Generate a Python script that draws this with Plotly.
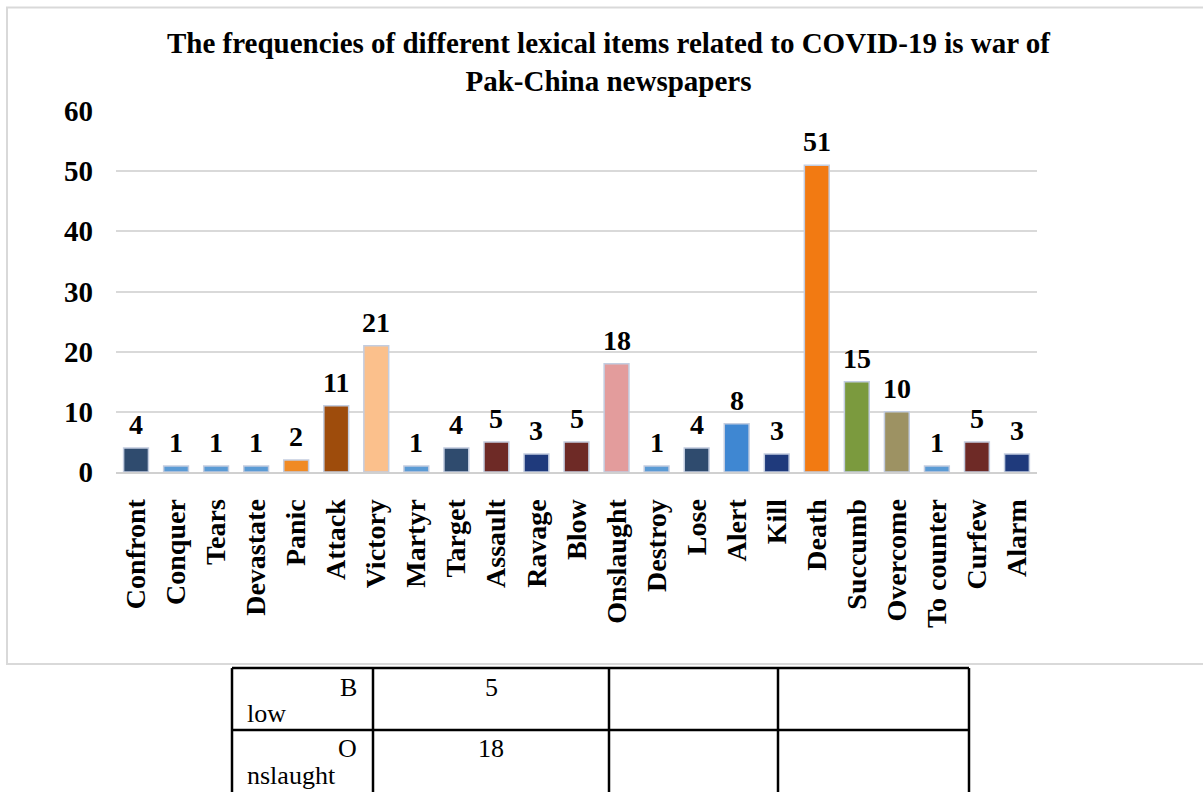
import plotly.graph_objects as go

# ---------------- data ----------------
categories = ["Confront", "Conquer", "Tears", "Devastate", "Panic", "Attack", "Victory",
              "Martyr", "Target", "Assault", "Ravage", "Blow", "Onslaught", "Destroy",
              "Lose", "Alert", "Kill", "Death", "Succumb", "Overcome", "To counter",
              "Curfew", "Alarm"]
frequencies = [4, 1, 1, 1, 2, 11, 21, 1, 4, 5, 3, 5, 18, 1, 4, 8, 3, 51, 15, 10, 1, 5, 3]
bar_colors = ["#2f4b6e", "#5b9bd5", "#5b9bd5", "#5b9bd5", "#f08a24", "#9e4c0c", "#fbc08c",
              "#5b9bd5", "#2f4b6e", "#6e2a26", "#1f3a7c", "#6e2a26", "#e39c9c", "#5b9bd5",
              "#2f4b6e", "#3f87d2", "#1f3a7c", "#f27a12", "#7b9a3e", "#9d9263", "#5b9bd5",
              "#6e2a26", "#1f3a7c"]
y_ticks = [0, 10, 20, 30, 40, 50, 60]

title_lines = ["The frequencies of different lexical items related to COVID-19 is war of",
               "Pak-China newspapers"]

# table fragment shown under the chart
table_col1_top = ["B", "O"]
table_col1_bottom = ["low", "nslaught"]
table_col2 = ["5", "18"]

# ---------------- layout helpers (pixel -> paper) ----------------
W, H = 1203, 792
PL, PR, PT, PB = 116, 1037, 110.7, 472.5


def fx(px):
    return (px - PL) / (PR - PL)


def fy(py):
    return (PB - py) / (PB - PT)


SERIF = "Liberation Serif"

fig = go.Figure()
fig.add_trace(go.Bar(
    x=categories,
    y=frequencies,
    marker=dict(color=bar_colors, line=dict(color="#c3cde0", width=1.5)),
    width=0.62,
    hoverinfo="x+y",
    showlegend=False,
))

# value labels above bars
annotations = []
for c, v in zip(categories, frequencies):
    annotations.append(dict(
        x=c, y=v, xref="x", yref="y", text=f"<b>{v}</b>", showarrow=False,
        yanchor="bottom", yshift=6,
        font=dict(family=SERIF, size=28, color="#000000", weight="bold"),
    ))

# title
annotations.append(dict(
    x=fx(608), y=fy(62), xref="paper", yref="paper", xanchor="center", yanchor="middle",
    text="<b>" + title_lines[0] + "<br>" + title_lines[1] + "</b>", showarrow=False,
    font=dict(family=SERIF, size=29, color="#000000", weight="bold"),
))

# table cells
row_tops = [669, 731]
TF = dict(family=SERIF, size=26, color="#000000")
for i in range(len(table_col2)):
    top = row_tops[i]
    annotations.append(dict(x=fx(359), y=fy(top + 19), xref="paper", yref="paper",
                            xanchor="right", yanchor="middle", text=table_col1_top[i],
                            showarrow=False, font=TF))
    annotations.append(dict(x=fx(245), y=fy(top + 46), xref="paper", yref="paper",
                            xanchor="left", yanchor="middle", text=table_col1_bottom[i],
                            showarrow=False, font=TF))
    annotations.append(dict(x=fx(491), y=fy(top + 19), xref="paper", yref="paper",
                            xanchor="center", yanchor="middle", text=table_col2[i],
                            showarrow=False, font=TF))

shapes = []
# outer chart frame
shapes.append(dict(type="rect", xref="paper", yref="paper",
                   x0=fx(7), x1=fx(1215), y0=fy(665), y1=fy(7),
                   line=dict(color="#d9d9d9", width=2), fillcolor="rgba(0,0,0,0)", layer="below"))
# table lines
for xv in [232, 373, 609, 778, 969]:
    shapes.append(dict(type="line", xref="paper", yref="paper",
                       x0=fx(xv), x1=fx(xv), y0=fy(669), y1=fy(800),
                       line=dict(color="#000000", width=2.5)))
for yv in [669, 731]:
    shapes.append(dict(type="line", xref="paper", yref="paper",
                       x0=fx(232), x1=fx(969), y0=fy(yv), y1=fy(yv),
                       line=dict(color="#000000", width=2.5)))

fig.update_layout(
    width=W, height=H,
    margin=dict(l=PL, r=W - PR, t=PT, b=H - PB, autoexpand=False),
    paper_bgcolor="white", plot_bgcolor="white",
    font=dict(family=SERIF, color="#000000"),
    annotations=annotations,
    shapes=shapes,
    xaxis=dict(
        type="category", tickangle=-90, showgrid=False, ticks="",
        showline=True, linecolor="#d0d0d0", linewidth=2,
        tickfont=dict(family=SERIF, size=28, color="#000000", weight="bold"),
        ticklabelstandoff=14, fixedrange=True,
    ),
    yaxis=dict(
        range=[0, 60], tickmode="array", tickvals=y_ticks,
        ticktext=[f"<b>{t}</b>" for t in y_ticks],
        showgrid=True, gridcolor="#d9d9d9", gridwidth=1.5,
        zeroline=False, showline=False, ticks="",
        tickfont=dict(family=SERIF, size=29, color="#000000", weight="bold"),
        ticklabelstandoff=22, fixedrange=True,
    ),
)

fig.write_html("out.html")
